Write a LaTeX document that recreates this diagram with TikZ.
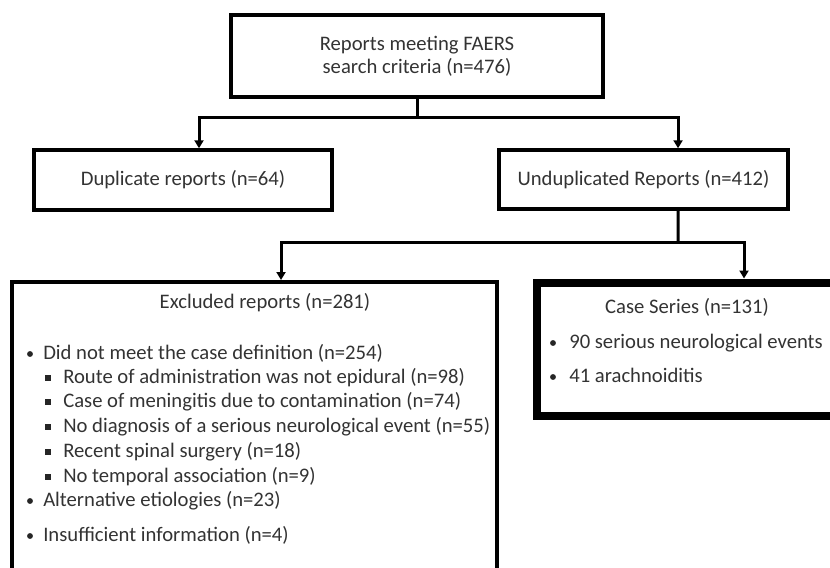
\documentclass[tikz,border=0pt]{standalone}
\usepackage{fontspec}
\setmainfont{Carlito}
\usetikzlibrary{arrows.meta, positioning}

\tikzset{
  box/.style={draw, line width=2.6pt, inner sep=0pt, align=center, text=black!80},
  item/.style={anchor=base west, inner sep=0pt, text=black!80},
  link/.style={line width=2.25pt, line join=miter},
  arr/.style={link, -{Triangle[width=6.75pt,length=6pt]}},
}

\begin{document}
\begin{tikzpicture}[x=0.75pt, y=-0.75pt, font=\fontsize{15.5pt}{17.3pt}\selectfont]
		%		\draw[step=50,black!20,thin] (0,0) grid (830,567);
		\useasboundingbox (0,0) rectangle (830,567);
		
		\node[box, minimum width=279pt, minimum height=61.5pt] (faers) at (417,56) {Reports meeting FAERS\\search criteria (n=476)};
		\node[box, minimum width=223.5pt, minimum height=45pt] (dup) at (183,180) {Duplicate reports (n=64)};
		\node[box, minimum width=216.75pt, minimum height=44.25pt] (undup) at (643.5,179.5) {Unduplicated Reports (n=412)};
		\node[box, line width=3pt, minimum width=363.75pt, minimum height=238.5pt] (excl) at (254.5,441) {};
		\node[box, line width=6pt, minimum width=249.4pt, minimum height=100.1pt] (cases) at (703.75,349.25) {};
		
		% connectors
		\coordinate (j1) at (417,117);
		\coordinate (j2) at (678,242);
		\draw[link] (faers.south) -- (j1);
		\draw[arr] (j1) -| ([xshift=12pt]dup.north);
		\draw[arr] (j1) -| ([xshift=25.9pt]undup.north);
		\draw[link] ([xshift=25.9pt]undup.south) -- (j2);
		\draw[arr] (j2) -| ([xshift=19.9pt]excl.north);
		\draw[arr] (j2) -| ([xshift=30.2pt]cases.north);
		
		% excluded reports
		\node[text=black!80, inner sep=0pt] (excltitle) at (265,303) {Excluded reports (n=281)};
		\foreach \y/\t in {354/Did not meet the case definition (n=254), 501/Alternative etiologies (n=23), 536/Insufficient information (n=4)}{
			\fill[black!85] (30,\y) circle[radius=2.2pt];
			\node[item] (main\y) at (43,\y+5) {\t};
		}
		\foreach \y/\t in {378/Route of administration was not epidural (n=98), 402/Case of meningitis due to contamination (n=74), 427/No diagnosis of a serious neurological event (n=55), 452/Recent spinal surgery (n=18), 477/No temporal association (n=9)}{
			\fill[black!85] (48,\y) +(-1.9pt,-1.9pt) rectangle +(1.9pt,1.9pt);
			\node[item] (sub\y) at (63,\y+5) {\t};
		}
		
		% case series
		\node[text=black!80, inner sep=0pt] (casetitle) at (687,307) {Case Series (n=131)};
		\foreach \y/\t in {343/90 serious neurological events, 377/41 arachnoiditis}{
			\fill[black!85] (553,\y) circle[radius=2.2pt];
			\node[item] (case\y) at (569,\y+5) {\t};
		}
\end{tikzpicture}
\end{document}
